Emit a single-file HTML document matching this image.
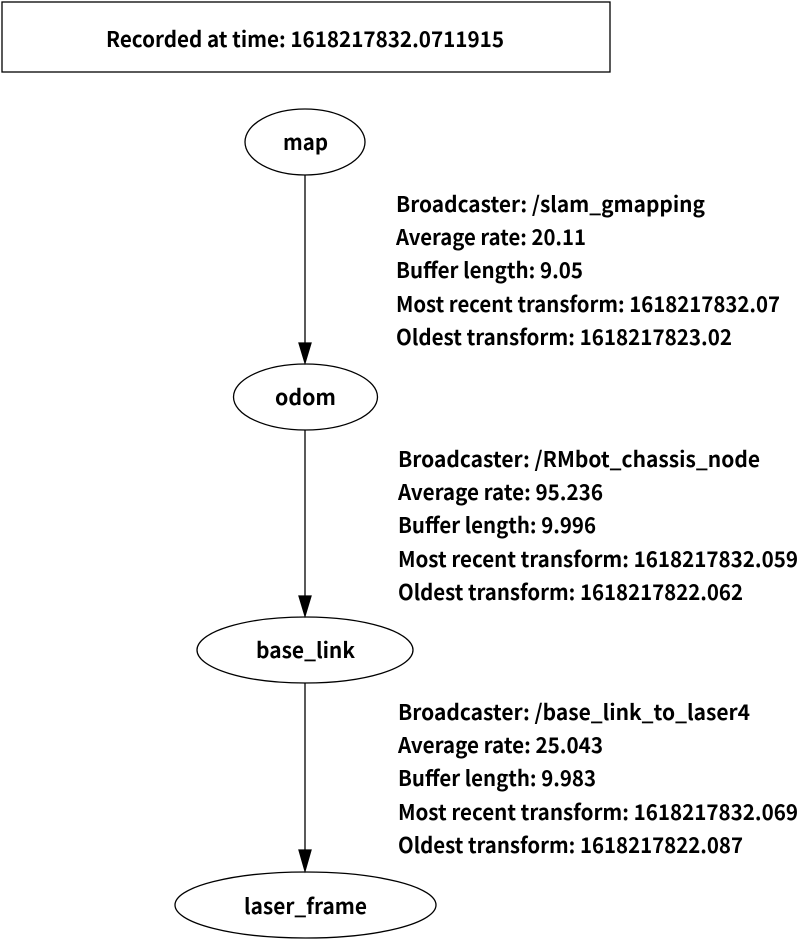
<!DOCTYPE html>
<html><head><meta charset="utf-8"><style>html,body{margin:0;padding:0;background:#fff}svg{display:block}
text{font-family:"Noto Sans CJK SC","Liberation Sans",sans-serif;font-weight:bold;font-size:21.5px;fill:#000}</style></head>
<body>
<svg width="799" height="940" viewBox="0 0 799 940" xmlns="http://www.w3.org/2000/svg">
<rect x="2" y="2" width="608" height="70" fill="#fff" stroke="#000" stroke-width="1.3"/>
<text x="106" y="47" textLength="398" lengthAdjust="spacingAndGlyphs">Recorded at time: 1618217832.0711915</text>
<g fill="none" stroke="#000" stroke-width="1.3">
<ellipse cx="305" cy="142" rx="60" ry="33"/>
<ellipse cx="305.5" cy="397" rx="72" ry="33"/>
<ellipse cx="305" cy="650" rx="108" ry="33"/>
<ellipse cx="305.5" cy="905" rx="130.5" ry="33"/>
<line x1="305" y1="175" x2="305" y2="345"/>
<line x1="305" y1="430" x2="305" y2="598"/>
<line x1="305" y1="683" x2="305" y2="852"/>
</g>
<g fill="#000" stroke="#000" stroke-width="1.3">
<polygon points="299,343 311,343 305,363"/>
<polygon points="299,596 311,596 305,616"/>
<polygon points="299,850 311,850 305,871"/>
</g>
<text x="283" y="150" textLength="45" lengthAdjust="spacingAndGlyphs">map</text>
<text x="275" y="405" textLength="61" lengthAdjust="spacingAndGlyphs">odom</text>
<text x="256" y="658" textLength="99" lengthAdjust="spacingAndGlyphs">base_link</text>
<text x="244" y="914" textLength="123" lengthAdjust="spacingAndGlyphs">laser_frame</text>

<text x="396" y="212" textLength="309" lengthAdjust="spacingAndGlyphs">Broadcaster: /slam_gmapping</text>
<text x="396" y="245" textLength="190" lengthAdjust="spacingAndGlyphs">Average rate: 20.11</text>
<text x="396" y="278" textLength="187" lengthAdjust="spacingAndGlyphs">Buffer length: 9.05</text>
<text x="396" y="312" textLength="384" lengthAdjust="spacingAndGlyphs">Most recent transform: 1618217832.07</text>
<text x="396" y="345" textLength="336" lengthAdjust="spacingAndGlyphs">Oldest transform: 1618217823.02</text>

<text x="398" y="467" textLength="362" lengthAdjust="spacingAndGlyphs">Broadcaster: /RMbot_chassis_node</text>
<text x="398" y="500" textLength="205" lengthAdjust="spacingAndGlyphs">Average rate: 95.236</text>
<text x="398" y="533" textLength="198" lengthAdjust="spacingAndGlyphs">Buffer length: 9.996</text>
<text x="398" y="567" textLength="400" lengthAdjust="spacingAndGlyphs">Most recent transform: 1618217832.059</text>
<text x="398" y="600" textLength="345" lengthAdjust="spacingAndGlyphs">Oldest transform: 1618217822.062</text>

<text x="398" y="720" textLength="352" lengthAdjust="spacingAndGlyphs">Broadcaster: /base_link_to_laser4</text>
<text x="398" y="753" textLength="205" lengthAdjust="spacingAndGlyphs">Average rate: 25.043</text>
<text x="398" y="786" textLength="198" lengthAdjust="spacingAndGlyphs">Buffer length: 9.983</text>
<text x="398" y="820" textLength="400" lengthAdjust="spacingAndGlyphs">Most recent transform: 1618217832.069</text>
<text x="398" y="853" textLength="345" lengthAdjust="spacingAndGlyphs">Oldest transform: 1618217822.087</text>
</svg>
</body></html>
